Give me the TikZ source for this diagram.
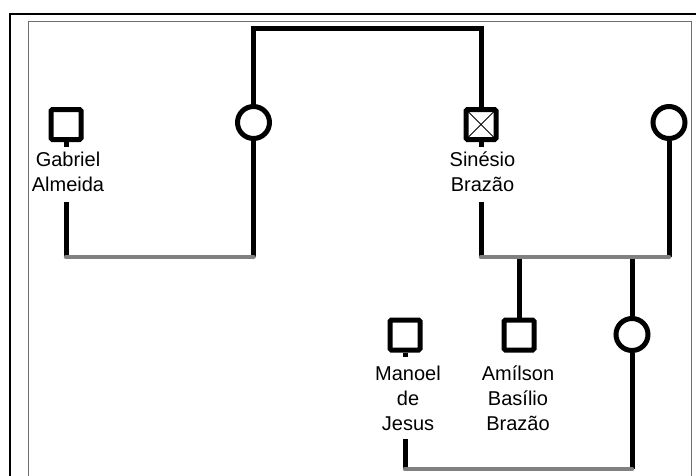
\documentclass[tikz,border=0pt]{standalone}
\usepackage{fontspec}
\setmainfont{Liberation Sans}
\usetikzlibrary{calc}
\begin{document}
\begin{tikzpicture}[x=1pt,y=-1pt,
  blk/.style={line width=5pt,black},
  gry/.style={line width=4.5pt,color={rgb,255:red,128;green,128;blue,128},line cap=round},
  male/.style={draw,line width=5pt,rectangle,minimum size=30pt,inner sep=0pt,rounded corners=1.5pt},
  female/.style={draw,line width=5pt,circle,minimum size=32pt,inner sep=0pt},
  lbl/.style={align=center,inner sep=0pt,anchor=base,font=\fontsize{20}{25}\selectfont}
]
\useasboundingbox (0,0) rectangle (696,475);
% frames
\draw[line width=2.5pt] (10,490) -- (10,14) -- (710,14);
\draw[line width=1pt,color={rgb,255:red,110;green,110;blue,110}] (28,490) -- (28,21) -- (691,21) -- (691,490);

% persons
\node[male] (gab) at (66,124.5) {};
\node[female] (c1) at (253.5,122.5) {};
\node[male] (sin) at (481,124.5) {};
\draw[line width=1pt] ($(sin.north west)+(2.5,2.5)$) -- ($(sin.south east)+(-2.5,-2.5)$);
\draw[line width=1pt] ($(sin.north east)+(-2.5,2.5)$) -- ($(sin.south west)+(2.5,-2.5)$);
\node[female] (c2) at (669,122.5) {};
\node[male] (man) at (405,335) {};
\node[male] (ams) at (519,335) {};
\node[female] (c3) at (632,334.5) {};

% labels (base = baseline of last line)
\node[lbl] (gabl) at (68,191) {Gabriel\\Almeida};
\node[lbl] (sinl) at (482.5,191) {Sinésio\\Brazão};
\node[lbl] (manl) at (408,430) {Manoel\\de\\Jesus};
\node[lbl] (amsl) at (518,430) {Amílson\\Basílio\\Brazão};

% coordinates
\coordinate (tl) at (253.5,28);
\coordinate (tr) at (481,28);
\coordinate (gabs) at (66,147);
\coordinate (gabt) at (66,202);
\coordinate (m1l) at (66,257);
\coordinate (m1r) at (253.5,257);
\coordinate (sins) at (481,147);
\coordinate (sint) at (481,202);
\coordinate (m2l) at (481,257);
\coordinate (m2r) at (669,257);
\coordinate (d1) at (519,257);
\coordinate (d2) at (632,257);
\coordinate (mans) at (405,357);
\coordinate (mant) at (405,439);
\coordinate (m3l) at (405,469);
\coordinate (m3r) at (632,469);

% connectors
\draw[blk] (c1.north) -- (tl) -- (tr) -- (sin.north);
\draw[blk] (gab.south) -- (gabs);
\draw[blk] (gabt) -- (m1l);
\draw[blk] (c1.south) -- (m1r);
\draw[blk] (sin.south) -- (sins);
\draw[blk] (sint) -- (m2l);
\draw[blk] (c2.south) -- (m2r);
\draw[blk] (d1) -- (ams.north);
\draw[blk] (d2) -- (c3.north);
\draw[blk] (c3.south) -- (m3r);
\draw[blk] (man.south) -- (mans);
\draw[blk] (mant) -- (m3l);
\draw[gry] (m1l) -- (m1r);
\draw[gry] (m2l) -- (m2r);
\draw[gry] (m3l) -- (m3r);
\end{tikzpicture}
\end{document}
